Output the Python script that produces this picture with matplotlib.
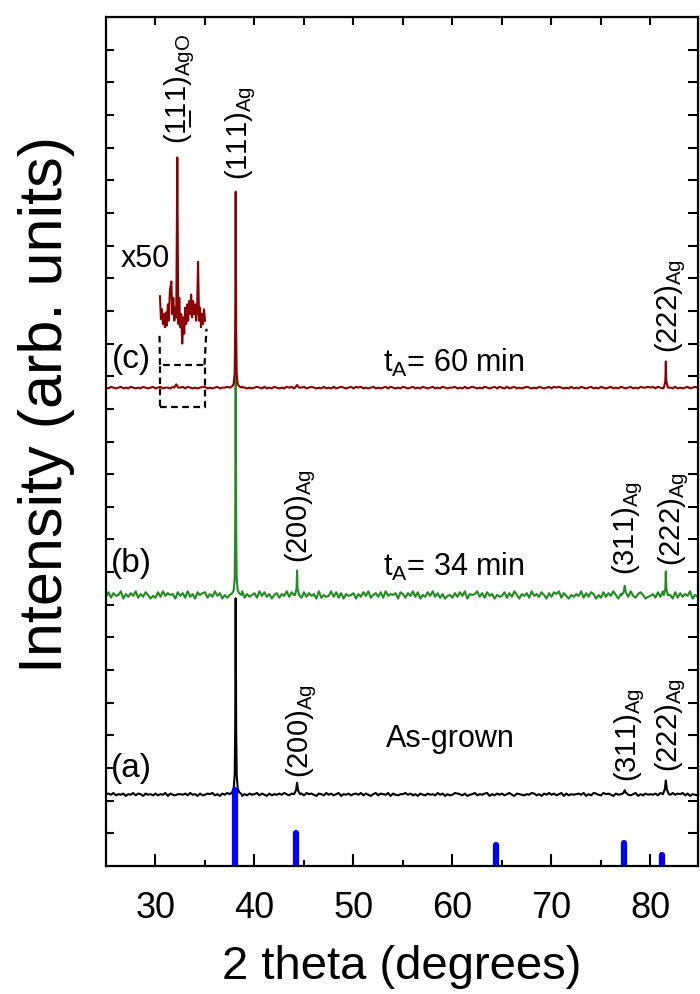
import numpy as np, matplotlib; matplotlib.use('Agg')
import matplotlib.pyplot as plt
from matplotlib.patches import Rectangle

plt.rcParams['font.family'] = ['Liberation Sans', 'DejaVu Sans']
plt.rcParams['mathtext.default'] = 'regular'

# Ag reference stick pattern (blue bars)
ref_pos = [38.05, 44.2, 64.35, 77.35, 81.15]
ref_h = [2.32, 1.0, 0.64, 0.70, 0.34]

# baselines of the stacked patterns (arb. offset units)
base_a, base_b, base_c = 2.2, 8.3, 14.65

# baseline noise, one digit per step (25..85), digit-4 = offset
noise_a = ("4536243514 3625415342 5243615324 4352634152 3546241536 2453614253 4625315243 "
           "5364251435 2645315426 3524614352 4536253146 2543615324 4635241532 5342635142 "
           "3654251346 2435614253 5246315432 4365241536 3524615243 4536142653 2645315342 "
           "5324614253 4352641536 3546251432 5")
noise_b = ("2716348052 6381527403 1728364507 3618250746 7152836041 2607381524 6183725046 "
           "1538274061 7263508142 3827160534 6052738146 2718354607 5163827042 7382615034 "
           "1627380545 8261735042 3716284053 6183527406 2758163042 5381627504 1726384056 "
           "6283157402 3517283640 7162538042 4")
noise_c = ("4354345343 5434354345 3453443543 4535434345 5343453445 3454354343 4543534354 "
           "3435453434 5345434353 4353454345 3545343453 4345354343 5434534354 3453435434 "
           "4534353454 3435434535 4353453434 5434354345 3545434353 4354345343 5434534354 "
           "3453435445 4535434343 5343453454 4")

# peaks: (2theta points, height above baseline)
peak_111_x = [37.5, 37.75, 37.9, 38.0, 38.05, 38.1, 38.15, 38.2, 38.3, 38.45, 38.7]
peaks_a = [(peak_111_x, [0, 0.06, 0.18, 0.6, 2.0, 6.0, 2.0, 0.6, 0.18, 0.06, 0]),
           ([44.0, 44.2, 44.3, 44.4, 44.6], [0, 0.12, 0.35, 0.12, 0]),
           ([77.1, 77.3, 77.4, 77.5, 77.7], [0, 0.05, 0.12, 0.05, 0]),
           ([81.25, 81.45, 81.55, 81.65, 81.85], [0, 0.15, 0.42, 0.15, 0])]
peaks_b = [(peak_111_x, [0, 0.05, 0.15, 0.5, 2.0, 6.7, 2.0, 0.5, 0.15, 0.05, 0]),
           ([44.1, 44.25, 44.3, 44.35, 44.5], [0, 0.2, 0.75, 0.2, 0]),
           ([77.1, 77.3, 77.4, 77.5, 77.65], [0, 0.1, 0.28, 0.1, 0]),
           ([81.35, 81.5, 81.55, 81.6, 81.75], [0, 0.2, 0.72, 0.2, 0])]
peaks_c = [([31.9, 32.1, 32.3], [0, 0.1, 0]),
           (peak_111_x, [0, 0.04, 0.12, 0.45, 1.8, 6.0, 1.8, 0.45, 0.12, 0.04, 0]),
           ([44.1, 44.3, 44.5], [0, 0.08, 0]),
           ([81.35, 81.5, 81.55, 81.6, 81.75], [0, 0.2, 0.8, 0.2, 0])]

# x50 magnified part of (c)
inset_x = [30.45, 30.55, 30.65, 30.75, 30.85, 30.95, 31.05, 31.15, 31.25, 31.35, 31.45, 31.6,
           31.7, 31.8, 31.9, 32.0, 32.1, 32.2, 32.3, 32.4, 32.5, 32.6, 32.7, 32.8, 32.9, 33.0,
           33.1, 33.2, 33.3, 33.4, 33.5, 33.6, 33.7, 33.8, 33.9, 34.0, 34.1, 34.2, 34.3, 34.4,
           34.5, 34.6, 34.7, 34.8, 34.9, 35.0]
inset_y = [17.45, 16.75, 17.05, 16.6, 16.9, 16.5, 16.95, 16.55, 17.2, 16.7, 17.6, 17.9,
           16.9, 17.4, 16.7, 17.1, 16.8, 21.7, 16.6, 17.4, 16.5, 16.9, 16.0, 16.8, 16.3, 17.1,
           16.6, 17.2, 16.7, 17.3, 16.9, 17.5, 16.8, 17.3, 16.9, 17.2, 16.7, 17.0, 18.5, 16.7,
           17.1, 16.5, 16.9, 16.6, 17.05, 16.7]
zoom_x = (30.45, 35.05)
zoom_y = (14.05, 15.35)
inset_y0 = 16.35

peak_labels = [(r'$(111)_{Ag}$', 38.6, 21.0),
               ('(1\u033211)$_{AgO}$', 32.4, 22.1),
               (r'$(222)_{Ag}$', 82.0, 15.7),
               (r'$(200)_{Ag}$', 44.7, 9.27),
               (r'$(311)_{Ag}$', 77.7, 8.9),
               (r'$(222)_{Ag}$', 82.3, 9.2),
               (r'$(200)_{Ag}$', 44.8, 2.7),
               (r'$(311)_{Ag}$', 77.9, 2.57),
               (r'$(222)_{Ag}$', 82.0, 2.87)]
curve_labels = [('(a)', 27.6, 3.0), ('(b)', 27.6, 9.27), ('(c)', 27.6, 15.5)]
cond_labels = [('As-grown', 59.8, 3.9), (r'$t_A$= 34 min', 60.1, 9.15), (r'$t_A$= 60 min', 60.1, 15.4)]


def trace(base, noise, scale, peaks):
    n = np.array([int(c) - 4 for c in noise if c.isdigit()])
    x = np.linspace(25, 85, len(n)); y = base + n * scale
    for px, po in peaks:
        keep = (x < px[0]) | (x > px[-1])
        x = np.concatenate([x[keep], px]); y = np.concatenate([y[keep], base + np.array(po)])
    o = np.argsort(x)
    return x[o], y[o]


RED, GREEN = '#8b0000', '#228b22'
fig = plt.figure(figsize=(7, 9.94), dpi=100)
ax = fig.add_axes([106/700, 1-866/994, 592/700, 849/994])

xa, ya = trace(base_a, noise_a, 0.018, peaks_a)
xb, yb = trace(base_b, noise_b, 0.028, peaks_b)
xc, yc = trace(base_c, noise_c, 0.025, peaks_c)
ax.plot(xa, ya, color='black', lw=1.5)
ax.plot(xb, yb, color=GREEN, lw=1.5)
ax.plot(xc, yc, color=RED, lw=1.5)
ax.plot(inset_x, inset_y, color=RED, lw=1.5)
ax.vlines(ref_pos, 0, ref_h, color='#0000ff', lw=4.5, capstyle='round')

ax.add_patch(Rectangle((zoom_x[0], zoom_y[0]), zoom_x[1]-zoom_x[0], zoom_y[1]-zoom_y[0],
                       fill=False, ls=(0, (3, 2)), lw=1.6, ec='black'))
ax.plot([zoom_x[0], zoom_x[0]-0.05], [zoom_y[1], inset_y0], color='black', ls=(0, (3, 2)), lw=1.6)
ax.plot([zoom_x[1]-0.1, zoom_x[1]+0.1], [zoom_y[1], inset_y0+0.1], color='black', ls=(0, (3, 2)), lw=1.6)
ax.text(29.0, 18.6, 'x50', fontsize=22, ha='center', va='center')

for s, x, y in peak_labels:
    ax.text(x, y, s, rotation=90, ha='center', va='bottom', fontsize=21)
for s, x, y in curve_labels:
    ax.text(x, y, s, ha='center', va='center', fontsize=24)
for s, x, y in cond_labels:
    ax.text(x, y, s, ha='center', va='center', fontsize=22)

ax.set_xlim(25, 84.8); ax.set_ylim(0, 26)
ax.set_xticks(range(30, 81, 10)); ax.set_xticks(range(35, 80, 10), minor=True)
ax.set_yticks(range(1, 26)); ax.set_yticklabels([])
ax.tick_params(axis='x', which='major', direction='in', length=9, width=1.5, labelsize=26, pad=18)
ax.tick_params(axis='x', which='minor', direction='in', length=4.5, width=1.5)
ax.tick_params(axis='y', direction='in', length=5.5, width=1.5)
for sp in ax.spines.values():
    sp.set_linewidth(1.6)

top = ax.secondary_xaxis('top')
top.set_xticks(range(30, 81, 5)); top.set_xticklabels([])
top.tick_params(direction='in', length=6, width=1.5)
right = ax.secondary_yaxis('right')
right.set_yticks(range(1, 26)); right.set_yticklabels([])
right.tick_params(direction='in', length=7, width=1.5)

ax.set_xlabel('2 theta (degrees)', fontsize=34)
ax.xaxis.set_label_coords(0.5, -0.093)
ax.set_ylabel('Intensity (arb. units)', fontsize=44)
ax.yaxis.set_label_coords(-0.052, 0.543)

fig.savefig('out.png', dpi=100)
